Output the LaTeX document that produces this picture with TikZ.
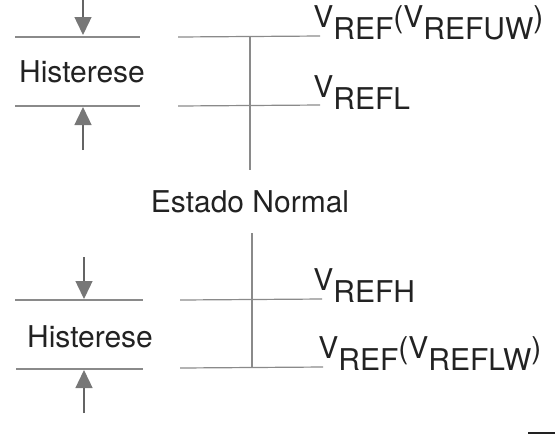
\documentclass[tikz,border=0pt]{standalone}
\usepackage{fontspec}
\setmainfont{TeX Gyre Heros}
\usetikzlibrary{arrows.meta}
\definecolor{ink}{HTML}{222222}
\definecolor{rule}{HTML}{8a8a8a}
\definecolor{tip}{HTML}{777777}
\newcommand{\lowsub}[1]{\raisebox{-6pt}{#1}}

\begin{document}
\begin{tikzpicture}[
  x=0.5pt, y=-0.5pt,
  font=\fontsize{15}{17}\selectfont,
  level/.style={draw=rule, line width=0.6pt},
  axis/.style={draw=rule, line width=0.6pt},
  push/.style={draw=ink!70, line width=0.7pt, -{Triangle[length=9pt, width=8.5pt, fill=tip, color=tip]}},
  lbl/.style={inner sep=0pt, text=ink, anchor=base west}
]
  \useasboundingbox (0,0) rectangle (555,435);

  % upper hysteresis band
  \coordinate (tu1) at (15,37);   \coordinate (tu2) at (140,37);
  \coordinate (tl1) at (15,106);  \coordinate (tl2) at (140,106);
  \draw[level] (tu1) -- (tu2);
  \draw[level] (tl1) -- (tl2);
  \node[text=ink] (hist1) at (82,72) {Histerese};
  \coordinate (a1s) at (83,0);    \coordinate (a1e) at (83,35);
  \coordinate (a2s) at (83,150);  \coordinate (a2e) at (83,107);
  \draw[push] (a1s) -- (a1e);
  \draw[push] (a2s) -- (a2e);

  % upper thresholds
  \coordinate (ru1) at (178,37);  \coordinate (ru2) at (320,36);
  \coordinate (rl1) at (178,106); \coordinate (rl2) at (320,105);
  \coordinate (vt1) at (250,37);  \coordinate (vt2) at (250,170);
  \draw[level] (ru1) -- (ru2);
  \draw[level] (rl1) -- (rl2);
  \draw[axis] (vt1) -- (vt2);
  \node[lbl] (vrefuw) at (313,27) {V\lowsub{REF}(V\lowsub{REFUW})};
  \node[lbl] (vrefl) at (313,97) {V\lowsub{REFL}};

  % normal state
  \node[text=ink] (normal) at (250,202) {Estado Normal};

  % lower thresholds
  \coordinate (vb1) at (252,233); \coordinate (vb2) at (252,367);
  \coordinate (rh1) at (180,300); \coordinate (rh2) at (322,299);
  \coordinate (rw1) at (180,368); \coordinate (rw2) at (323,367);
  \draw[axis] (vb1) -- (vb2);
  \draw[level] (rh1) -- (rh2);
  \draw[level] (rw1) -- (rw2);
  \node[lbl] (vrefh) at (313,290) {V\lowsub{REFH}};
  \node[lbl] (vreflw) at (318,358) {V\lowsub{REF}(V\lowsub{REFLW})};

  % lower hysteresis band
  \coordinate (bu1) at (15,300);  \coordinate (bu2) at (143,300);
  \coordinate (bl1) at (16,369);  \coordinate (bl2) at (143,369);
  \draw[level] (bu1) -- (bu2);
  \draw[level] (bl1) -- (bl2);
  \node[text=ink] (hist2) at (90,337) {Histerese};
  \coordinate (a3s) at (84,257);  \coordinate (a3e) at (84,299);
  \coordinate (a4s) at (84,413);  \coordinate (a4e) at (84,370);
  \draw[push] (a3s) -- (a3e);
  \draw[push] (a4s) -- (a4e);

  % corner mark
  \coordinate (cm1) at (528,433); \coordinate (cm2) at (555,433);
  \draw[ink, line width=1pt] (cm1) -- (cm2);
\end{tikzpicture}
\end{document}
